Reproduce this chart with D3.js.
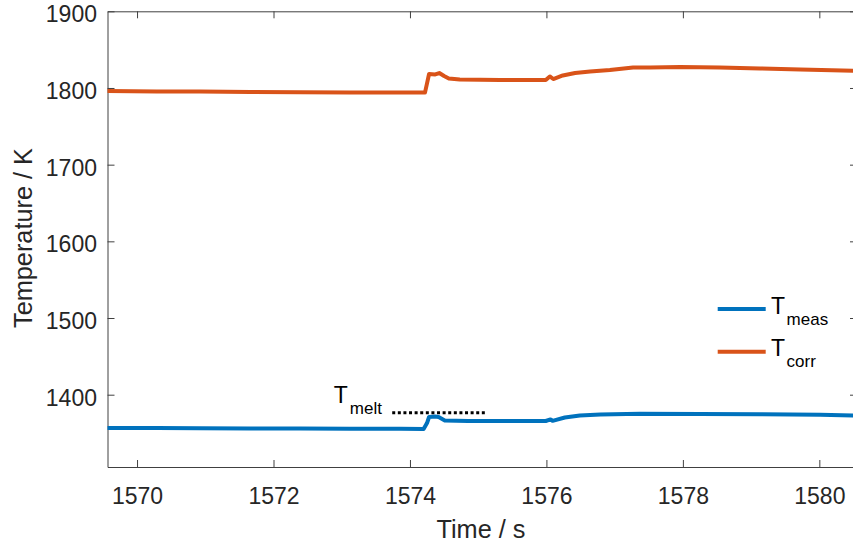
<!DOCTYPE html>
<html>
<head>
<meta charset="utf-8">
<script src="https://cdn.jsdelivr.net/npm/d3@7"></script>
<style>
  html, body { margin: 0; padding: 0; background: #fff; }
  svg { display: block; font-family: "Liberation Sans", Arial, Helvetica, sans-serif; }
</style>
</head>
<body>
<svg id="chart" width="853" height="544"></svg>
<script>
// Time axis (s)
const timeMeas = [1569.57, 1570.29, 1570.92, 1571.66, 1572.39, 1573.12, 1573.85, 1574.20,
  1574.25, 1574.28, 1574.37, 1574.42, 1574.51, 1574.85, 1575.32, 1575.99, 1576.06, 1576.09,
  1576.27, 1576.49, 1576.79, 1577.37, 1578.25, 1579.13, 1580.01, 1580.55];
const tMeas = [1356.7, 1356.4, 1356.3, 1356.0, 1355.9, 1355.7, 1355.5, 1355.2,
  1363.0, 1370.9, 1371.6, 1370.8, 1366.4, 1365.7, 1365.6, 1365.7, 1367.7, 1365.9,
  1370.3, 1372.9, 1374.2, 1375.3, 1374.9, 1374.5, 1374.0, 1372.9];

const timeCorr = [1569.57, 1570.29, 1570.92, 1571.66, 1572.39, 1573.12, 1573.85, 1574.22,
  1574.25, 1574.28, 1574.37, 1574.43, 1574.50, 1574.57, 1574.73, 1575.32, 1575.99, 1576.05,
  1576.10, 1576.24, 1576.42, 1576.64, 1576.93, 1577.27, 1577.52, 1577.96, 1578.54, 1579.13,
  1579.72, 1580.55];
const tCorr = [1796.1, 1795.4, 1795.3, 1794.8, 1794.4, 1794.1, 1794.0, 1794.0,
  1806.0, 1818.2, 1817.6, 1819.5, 1815.6, 1812.4, 1811.1, 1810.4, 1810.4, 1815.0,
  1811.7, 1816.3, 1819.5, 1821.5, 1823.4, 1826.7, 1826.8, 1827.4, 1826.7, 1825.4,
  1824.1, 1822.3];

// Melting temperature reference segment
const meltTime = [1573.74, 1575.13];
const meltTemp = 1376.5;

const xTicks = [1570, 1572, 1574, 1576, 1578, 1580];
const yTicks = [1400, 1500, 1600, 1700, 1800, 1900];
const xDomain = [1569.567, 1580.552];
const yDomain = [1305.7, 1900];

const seriesNames = [{ main: "T", sub: "meas" }, { main: "T", sub: "corr" }];
const colors = ["#0072BD", "#D95319"];
const axisColor = "#404040";
const textColor = "#262626";

const svg = d3.select("#chart");
const plotLeft = 107.5, plotRight = 857, plotTop = 11.3, plotBottom = 467;

const x = d3.scaleLinear().domain(xDomain).range([plotLeft, plotRight]);
const y = d3.scaleLinear().domain(yDomain).range([plotBottom, plotTop]);

svg.append("defs").append("clipPath").attr("id", "plotClip")
  .append("rect").attr("x", plotLeft).attr("y", plotTop)
  .attr("width", plotRight - plotLeft).attr("height", plotBottom - plotTop);

// Axes: ticks point inward on all four sides
const tickLen = 7;
const styleAxis = g => {
  g.selectAll(".domain").attr("stroke", axisColor).attr("stroke-width", 1);
  g.selectAll(".tick line").attr("stroke", axisColor).attr("stroke-width", 1);
  g.selectAll(".tick text").attr("fill", textColor)
    .style("font-size", "23px").style("font-family", "'Liberation Sans', Arial, sans-serif");
};

const xAxisB = svg.append("g").attr("transform", `translate(0,${plotBottom})`)
  .call(d3.axisBottom(x).tickValues(xTicks).tickFormat(d3.format("d"))
    .tickSizeInner(-tickLen).tickSizeOuter(0).tickPadding(21));
styleAxis(xAxisB);

const xAxisT = svg.append("g").attr("transform", `translate(0,${plotTop})`)
  .call(d3.axisTop(x).tickValues(xTicks).tickFormat("").tickSizeInner(-tickLen).tickSizeOuter(0));
styleAxis(xAxisT);

const yAxisL = svg.append("g").attr("transform", `translate(${plotLeft},0)`)
  .call(d3.axisLeft(y).tickValues(yTicks).tickFormat(d3.format("d"))
    .tickSizeInner(-tickLen).tickSizeOuter(0));
styleAxis(yAxisL);
yAxisL.selectAll(".tick text").attr("x", -10.5).attr("dy", "0.45em");

const yAxisR = svg.append("g").attr("transform", `translate(${plotRight},0)`)
  .call(d3.axisRight(y).tickValues(yTicks).tickFormat("").tickSizeInner(-tickLen).tickSizeOuter(0));
styleAxis(yAxisR);

// Axis titles
svg.append("text")
  .attr("x", 481).attr("y", 538)
  .attr("text-anchor", "middle").attr("fill", textColor)
  .style("font-size", "25.3px").text("Time / s");

svg.append("text")
  .attr("transform", "translate(32,238) rotate(-90)")
  .attr("text-anchor", "middle").attr("fill", textColor)
  .style("font-size", "25.3px").text("Temperature / K");

// Data lines
const plot = svg.append("g").attr("clip-path", "url(#plotClip)");
const lineGen = d3.line().x(d => x(d[0])).y(d => y(d[1]));

const seriesData = [
  d3.zip(timeMeas, tMeas),
  d3.zip(timeCorr, tCorr)
];

seriesData.forEach((data, i) => {
  plot.append("path")
    .datum(data)
    .attr("fill", "none")
    .attr("stroke", colors[i])
    .attr("stroke-width", 4)
    .attr("stroke-linejoin", "round")
    .attr("stroke-linecap", "round")
    .attr("d", lineGen);
});

// Melting point dotted segment and its label
plot.append("line")
  .attr("x1", x(meltTime[0])).attr("x2", x(meltTime[1]))
  .attr("y1", y(meltTemp)).attr("y2", y(meltTemp))
  .attr("stroke", "#000").attr("stroke-width", 3)
  .attr("stroke-dasharray", "3,2.6");

const meltLabel = svg.append("text")
  .attr("x", x(meltTime[0]) - 58.5).attr("y", y(meltTemp) - 9.4)
  .attr("fill", "#000");
meltLabel.append("tspan").style("font-size", "23px").text("T");
meltLabel.append("tspan").attr("dx", 2).attr("dy", 11).style("font-size", "17px").text("melt");

// Legend
const legendX1 = 717.7, legendX2 = 765.7;
const legendY = [309, 351.7];
seriesNames.forEach((s, i) => {
  const g = svg.append("g");
  g.append("line")
    .attr("x1", legendX1).attr("x2", legendX2)
    .attr("y1", legendY[i]).attr("y2", legendY[i])
    .attr("stroke", colors[i]).attr("stroke-width", 4);
  const t = g.append("text")
    .attr("x", 771).attr("y", legendY[i] + 4.5)
    .attr("fill", "#000");
  t.append("tspan").style("font-size", "23px").text(s.main);
  t.append("tspan").attr("dx", 1.5).attr("dy", 11).style("font-size", "17px").text(s.sub);
});
</script>
</body>
</html>
